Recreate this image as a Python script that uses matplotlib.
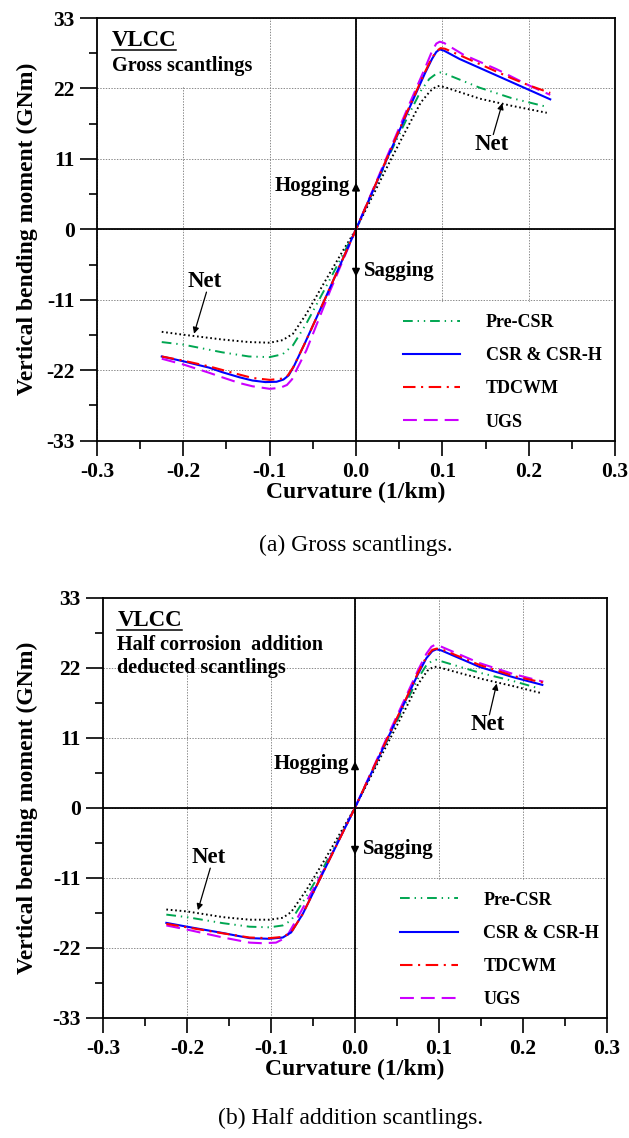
import numpy as np
import matplotlib
matplotlib.use('Agg')
import matplotlib.pyplot as plt
from matplotlib.patches import Rectangle
from matplotlib.lines import Line2D
from matplotlib.ticker import MultipleLocator

plt.rcParams['font.family'] = 'Liberation Serif'
plt.rcParams['font.weight'] = 'bold'
plt.rcParams['lines.scale_dashes'] = False
plt.rcParams['axes.unicode_minus'] = False

# ---- Gross scantlings: curvature (1/km) / moment (GNm) ----
gross_pre_k = [-0.225, -0.2, -0.155, -0.124, -0.1, -0.085, -0.073, -0.0575, -0.038, -0.015, 0,
               0.02, 0.04, 0.06, 0.075, 0.085, 0.093, 0.098, 0.105, 0.1436, 0.18, 0.219]
gross_pre_m = [-17.6, -18.0, -19.2, -19.85, -19.95, -19.5, -18.1, -14.7, -9.8, -3.9, 0,
               6.0, 12.0, 17.6, 21.6, 23.5, 24.3, 24.5, 24.2, 22.1, 20.5, 19.2]

gross_csr_k = [-0.225, -0.2, -0.17, -0.155, -0.135, -0.12, -0.105, -0.092, -0.084, -0.078, -0.072,
               -0.06, -0.038, 0, 0.03, 0.06, 0.08, 0.088, 0.093, 0.097, 0.102, 0.12, 0.15, 0.18,
               0.2, 0.225]
gross_csr_m = [-19.85, -20.6, -21.6, -22.3, -23.1, -23.6, -23.85, -23.8, -23.45, -22.8, -21.4,
               -18.0, -11.5, 0, 9.2, 18.4, 24.4, 26.6, 27.7, 28.1, 27.9, 26.6, 24.8, 23.0,
               21.8, 20.3]

gross_tdc_k = [-0.225, -0.2, -0.17, -0.14, -0.12, -0.1, -0.085, -0.079, -0.073, -0.06, -0.038, 0,
               0.03, 0.06, 0.08, 0.088, 0.094, 0.098, 0.103, 0.12, 0.15, 0.18, 0.2, 0.225]
gross_tdc_m = [-19.85, -20.5, -21.4, -22.5, -23.2, -23.5, -23.3, -22.8, -21.6, -18.0, -11.5, 0,
               9.3, 18.6, 24.6, 26.8, 27.9, 28.3, 28.2, 27.2, 25.4, 23.6, 22.5, 21.3]

gross_ugs_k = [-0.225, -0.2, -0.17, -0.155, -0.135, -0.12, -0.1, -0.088, -0.08, -0.074, -0.068,
               -0.0575, -0.03, 0, 0.03, 0.06, 0.08, 0.088, 0.093, 0.097, 0.102, 0.124, 0.163,
               0.2015, 0.225]
gross_ugs_m = [-20.2, -21.1, -22.4, -23.1, -24.0, -24.5, -24.9, -24.75, -24.3, -23.4, -21.7,
               -18.9, -9.6, 0, 9.5, 19.0, 25.2, 27.8, 29.0, 29.3, 29.1, 27.3, 25.0,
               22.4, 21.0]

gross_net_k = [-0.225, -0.2, -0.155, -0.124, -0.1, -0.085, -0.073, -0.0575, -0.038, -0.015, 0,
               0.02, 0.04, 0.06, 0.075, 0.086, 0.093, 0.097, 0.105, 0.1436, 0.18, 0.221]
gross_net_m = [-16.0, -16.45, -17.2, -17.6, -17.7, -17.3, -16.3, -13.2, -8.6, -3.3, 0,
               5.4, 10.8, 16.0, 19.8, 21.6, 22.3, 22.4, 22.1, 20.4, 19.3, 18.2]

# ---- Half corrosion addition deducted ----
half_pre_k = [-0.2246, -0.2, -0.157, -0.1255, -0.1018, -0.0859, -0.076, -0.0582, -0.0384, -0.015, 0,
              0.02, 0.04, 0.06, 0.075, 0.085, 0.092, 0.0964, 0.103, 0.1488, 0.1885, 0.2202]
half_pre_m = [-16.8, -17.2, -18.15, -18.7, -18.8, -18.5, -17.7, -14.0, -9.6, -3.8, 0,
              5.5, 11.0, 16.3, 20.3, 22.4, 23.1, 23.25, 23.0, 21.2, 19.9, 18.7]

half_csr_k = [-0.2246, -0.2, -0.157, -0.1255, -0.102, -0.086, -0.076, -0.0622, -0.0384, -0.015, 0,
              0.02, 0.04, 0.06, 0.075, 0.085, 0.092, 0.097, 0.103, 0.1488, 0.1885, 0.223]
half_csr_m = [-18.1, -18.7, -19.7, -20.5, -20.6, -20.4, -19.6, -16.7, -10.3, -4.0, 0,
              5.6, 11.2, 16.8, 21.0, 23.5, 24.6, 24.9, 24.7, 22.1, 20.5, 19.3]

half_tdc_k = [-0.2246, -0.2, -0.157, -0.1255, -0.102, -0.086, -0.076, -0.0622, -0.0384, 0,
              0.02, 0.04, 0.06, 0.075, 0.085, 0.092, 0.097, 0.103, 0.1488, 0.1885, 0.226]
half_tdc_m = [-18.25, -18.8, -19.75, -20.4, -20.5, -20.3, -19.6, -16.7, -10.3, 0,
              5.7, 11.3, 16.9, 21.2, 23.7, 24.8, 25.0, 24.9, 22.4, 20.7, 19.6]

half_ugs_k = [-0.2246, -0.2, -0.157, -0.1255, -0.11, -0.094, -0.082, -0.0701, -0.0384, 0,
              0.02, 0.04, 0.06, 0.075, 0.085, 0.091, 0.0952, 0.101, 0.1488, 0.1885, 0.2242]
half_ugs_m = [-18.5, -19.15, -20.4, -21.2, -21.3, -21.2, -20.4, -17.7, -10.1, 0,
              5.8, 11.6, 17.3, 21.6, 24.2, 25.3, 25.6, 25.4, 22.7, 21.0, 19.8]

half_net_k = [-0.2246, -0.2, -0.157, -0.1255, -0.1018, -0.0859, -0.076, -0.0582, -0.0384, -0.015, 0,
              0.02, 0.04, 0.06, 0.075, 0.086, 0.093, 0.0972, 0.104, 0.1488, 0.1885, 0.2202]
half_net_m = [-16.0, -16.3, -17.2, -17.6, -17.6, -17.3, -16.4, -13.0, -8.7, -3.4, 0,
              5.2, 10.4, 15.5, 19.4, 21.5, 22.1, 22.15, 21.9, 20.3, 19.1, 18.06]

labels = ['Pre-CSR', 'CSR & CSR-H', 'TDCWM', 'UGS']
x_ticks = [-0.3, -0.2, -0.1, 0.0, 0.1, 0.2, 0.3]
y_ticks = [-33, -22, -11, 0, 11, 22, 33]

sty_pre = dict(color='#00A651', ls=(0, (7, 3.5, 1, 3.5, 1, 3.5)), lw=1.4)
sty_csr = dict(color='#0000FF', ls='-', lw=1.5)
sty_tdc = dict(color='#FF0000', ls=(0, (9, 4, 1.5, 4)), lw=1.5)
sty_ugs = dict(color='#CC00FF', ls=(0, (10, 5)), lw=1.5)
sty_net = dict(color='k', ls=(0, (1.2, 2)), lw=1.4)

W, H = 629, 1138
fig = plt.figure(figsize=(W / 100, H / 100), dpi=100)


def px_axes(l, t, r, b):
    return fig.add_axes([l / W, 1 - b / H, (r - l) / W, (b - t) / H])


def setup(ax):
    ax.set_xlim(-0.3, 0.3)
    ax.set_ylim(-33, 33)
    ax.set_xticks(x_ticks)
    ax.set_xticklabels(['%.1f' % v for v in x_ticks])
    ax.set_yticks(y_ticks)
    ax.xaxis.set_minor_locator(MultipleLocator(0.05))
    ax.yaxis.set_minor_locator(MultipleLocator(5.5))
    ax.set_axisbelow(True)
    ax.grid(True, which='major', ls=(0, (1, 1)), color='#777777', lw=0.6)
    ax.tick_params(which='both', direction='out', width=1.2, labelsize=15.5)
    ax.tick_params(axis='x', which='major', length=10.5, pad=5)
    ax.tick_params(axis='y', which='major', length=12, pad=4)
    ax.tick_params(which='minor', length=5.5)
    for s in ax.spines.values():
        s.set_linewidth(1.3)
    ax.axhline(0, color='k', lw=1.3, zorder=1.5)
    ax.axvline(0, color='k', lw=1.3, zorder=1.5)


def curves(ax, pre, csr, tdc, ugs, net):
    ax.plot(*net, **sty_net, zorder=2)
    ax.plot(*pre, **sty_pre, zorder=2)
    ax.plot(*ugs, **sty_ugs, zorder=2)
    ax.plot(*csr, **sty_csr, zorder=2)
    ax.plot(*tdc, **sty_tdc, zorder=2)
    handles = [Line2D([], [], **sty_pre), Line2D([], [], **sty_csr),
               Line2D([], [], **sty_tdc), Line2D([], [], **sty_ugs)]
    ax.add_patch(Rectangle((0.004, -33), 0.296, 21.7, color='white', zorder=1, lw=0))
    ax.legend(handles, labels, loc='upper left', bbox_to_anchor=(0.054, -13.2),
              bbox_transform=ax.transData, frameon=False, fontsize=13,
              handlelength=3.2, handletextpad=1.4, labelspacing=0.9,
              borderpad=0, borderaxespad=0)


def marks(ax, net_hi, net_lo):
    arr = dict(arrowstyle='-|>', color='k', lw=1.3, mutation_scale=11,
               shrinkA=0, shrinkB=0)
    ax.annotate('', xy=(0, 7.3), xytext=(0, 0), arrowprops=arr, zorder=3)
    ax.annotate('', xy=(0, -7.4), xytext=(0, 0), arrowprops=arr, zorder=3)
    ax.text(-0.007, 6.8, 'Hogging', ha='right', va='center', fontsize=15)
    ax.text(0.009, -6.5, 'Sagging', ha='left', va='center', fontsize=15)
    thin = dict(arrowstyle='-|>', color='k', lw=0.9, mutation_scale=9,
                shrinkA=0, shrinkB=0)
    for (tx, ty), (hx, hy) in (net_hi, net_lo):
        ax.annotate('', xy=(hx, hy), xytext=(tx, ty), arrowprops=thin)
    ax.text(net_hi[0][0] - 0.002, net_hi[0][1] - 1.6, 'Net', ha='center', va='center', fontsize=16.5)
    ax.text(net_lo[0][0] - 0.002, net_lo[0][1] + 1.6, 'Net', ha='center', va='center', fontsize=16.5)


def title_block(ax, lines, box_right):
    ax.add_patch(Rectangle((-0.3, 22.4), box_right + 0.3, 10.6, color='white', zorder=1, lw=0))
    t = ax.text(-0.283, 28.6, 'VLCC', fontsize=16.5, va='baseline', ha='left', zorder=3)
    y = 28.6 - 3.8
    for s in lines:
        ax.text(-0.283, y, s, fontsize=14.5, va='baseline', ha='left', zorder=3)
        y -= 3.6
    return t


# top: gross scantlings
ax1 = px_axes(97, 18, 615, 440.7)
setup(ax1)
curves(ax1, (gross_pre_k, gross_pre_m), (gross_csr_k, gross_csr_m),
       (gross_tdc_k, gross_tdc_m), (gross_ugs_k, gross_ugs_m),
       (gross_net_k, gross_net_m))
marks(ax1, ((0.159, 14.8), (0.1695, 19.7)), ((-0.1732, -9.8), (-0.1876, -16.3)))
v1 = title_block(ax1, ['Gross scantlings'], -0.12)

# bottom: half corrosion addition
ax2 = px_axes(103, 597.7, 607, 1017.7)
setup(ax2)
curves(ax2, (half_pre_k, half_pre_m), (half_csr_k, half_csr_m),
       (half_tdc_k, half_tdc_m), (half_ugs_k, half_ugs_m),
       (half_net_k, half_net_m))
marks(ax2, ((0.16, 14.6), (0.1687, 19.5)), ((-0.1723, -9.5), (-0.187, -16.1)))
v2 = title_block(ax2, ['Half corrosion  addition', 'deducted scantlings'], -0.03)

# underline the VLCC labels
fig.canvas.draw()
for ax, t in ((ax1, v1), (ax2, v2)):
    bb = t.get_window_extent().transformed(ax.transData.inverted())
    ax.plot([bb.x0, bb.x1], [28.0, 28.0], color='k', lw=1.1, zorder=3)

ylab = 'Vertical bending moment (GNm)'
fig.text(27 / W, 1 - 229 / H, ylab, rotation=90, ha='center', va='center', fontsize=17)
fig.text(27 / W, 1 - 808 / H, ylab, rotation=90, ha='center', va='center', fontsize=17)
fig.text(356 / W, 1 - 492 / H, 'Curvature (1/km)', ha='center', va='center', fontsize=17)
fig.text(355 / W, 1 - 1069 / H, 'Curvature (1/km)', ha='center', va='center', fontsize=17)
fig.text(356 / W, 1 - 545 / H, '(a) Gross scantlings.', ha='center', va='center',
         fontsize=17, fontweight='normal')
fig.text(351 / W, 1 - 1118 / H, '(b) Half addition scantlings.', ha='center', va='center',
         fontsize=17, fontweight='normal')

fig.savefig('out.png', dpi=100)
